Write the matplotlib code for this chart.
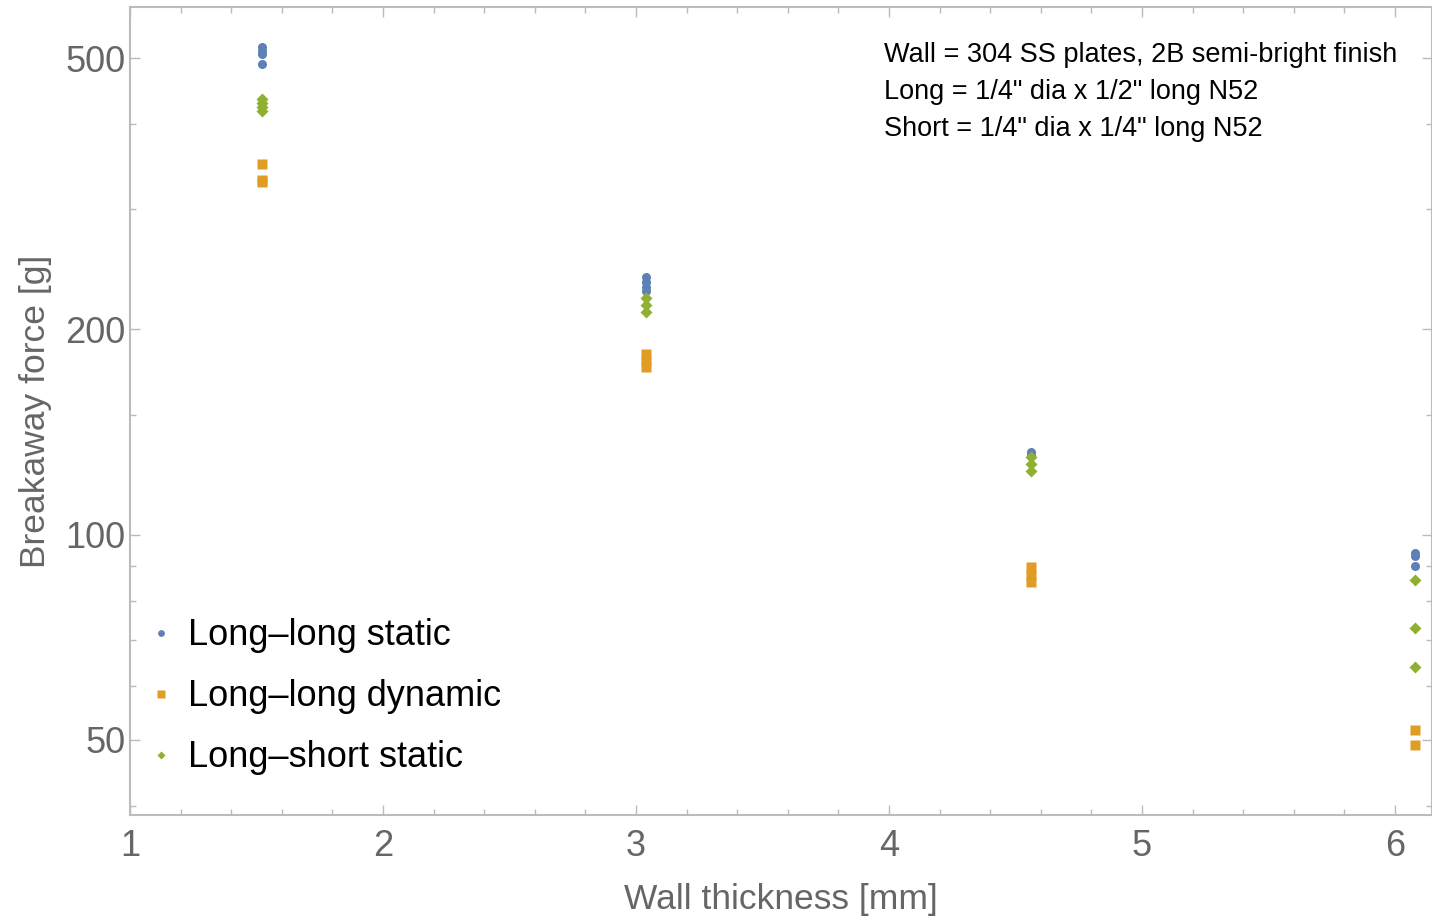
import matplotlib
matplotlib.use("Agg")
import matplotlib.pyplot as plt
from matplotlib.ticker import FixedLocator, NullFormatter
import numpy as np

# wall thickness [mm], one column per plate stack
thick = [1.52, 3.04, 4.56, 6.08]

# breakaway force [g] read per thickness
ll_static = [[519, 512, 506, 490],
             [239, 235, 231, 228],
             [132, 131],
             [94, 93, 90]]
ll_dynamic = [[350, 331, 329],
              [184, 180, 176],
              [89.7, 87.3, 85.2],
              [51.7, 49.2]]
ls_static = [[436, 430, 424, 418],
             [222, 217, 212],
             [130, 127, 124],
             [85.8, 73, 64]]

series = [("Long\u2013long static", ll_static, "o", "#5E81B5", 6.5),
          ("Long\u2013long dynamic", ll_dynamic, "s", "#E19C24", 6.8),
          ("Long\u2013short static", ls_static, "D", "#8FB032", 6.0)]

note = ["Wall = 304 SS plates, 2B semi-bright finish",
        "Long = 1/4\" dia x 1/2\" long N52",
        "Short = 1/4\" dia x 1/4\" long N52"]

plt.rcParams['font.family'] = ['Liberation Sans', 'DejaVu Sans']

fig = plt.figure(figsize=(14.32, 9.17), dpi=100)
ax = fig.add_axes([130/1432, 102/917, 1302/1432, 808/917])

for label, data, mk, col, ms in series:
    xs, ys = [], []
    for x, vals in zip(thick, data):
        xs += [x]*len(vals)
        ys += vals
    ax.plot(xs, ys, ls='none', marker=mk, color=col, ms=ms, mec='none', label=label)

ax.set_yscale('log')
ax.set_xlim(1, 6.146)
ax.set_ylim(38.8, 594)

ax.yaxis.set_major_locator(FixedLocator([50, 100, 200, 500]))
ax.yaxis.set_minor_locator(FixedLocator([40, 60, 70, 80, 90, 150, 300, 400]))
ax.yaxis.set_minor_formatter(NullFormatter())
ax.set_yticklabels(["50", "100", "200", "500"])
ax.xaxis.set_major_locator(FixedLocator([1, 2, 3, 4, 5, 6]))
ax.xaxis.set_minor_locator(FixedLocator(np.arange(1.2, 6.15, 0.2)))

for s in ax.spines.values():
    s.set_color("#bbbbbb")
    s.set_linewidth(1.5)

ax.tick_params(which='both', direction='in', colors="#bbbbbb", labelcolor="#666666",
               top=True, right=True, width=1)
ax.tick_params(which='major', length=7, labelsize=26)
ax.tick_params(axis='y', which='major', pad=3)
ax.tick_params(axis='x', which='major', pad=10)
ax.tick_params(which='minor', length=4)

ax.set_xlabel("Wall thickness [mm]", fontsize=25.5, color="#666666", labelpad=14)
ax.set_ylabel("Breakaway force [g]", fontsize=25.5, color="#666666", labelpad=10)

ax.text(0.579, 0.957, "\n".join(note), transform=ax.transAxes, fontsize=19.5,
        va='top', ha='left', linespacing=1.56, color="black")

ax.legend(loc='lower left', bbox_to_anchor=(0.0, 0.020), frameon=False, fontsize=26,
          markerscale=0.75, handlelength=0.4, handletextpad=0.55, labelspacing=0.72,
          borderaxespad=0.25)

fig.savefig("out.png", dpi=100)
